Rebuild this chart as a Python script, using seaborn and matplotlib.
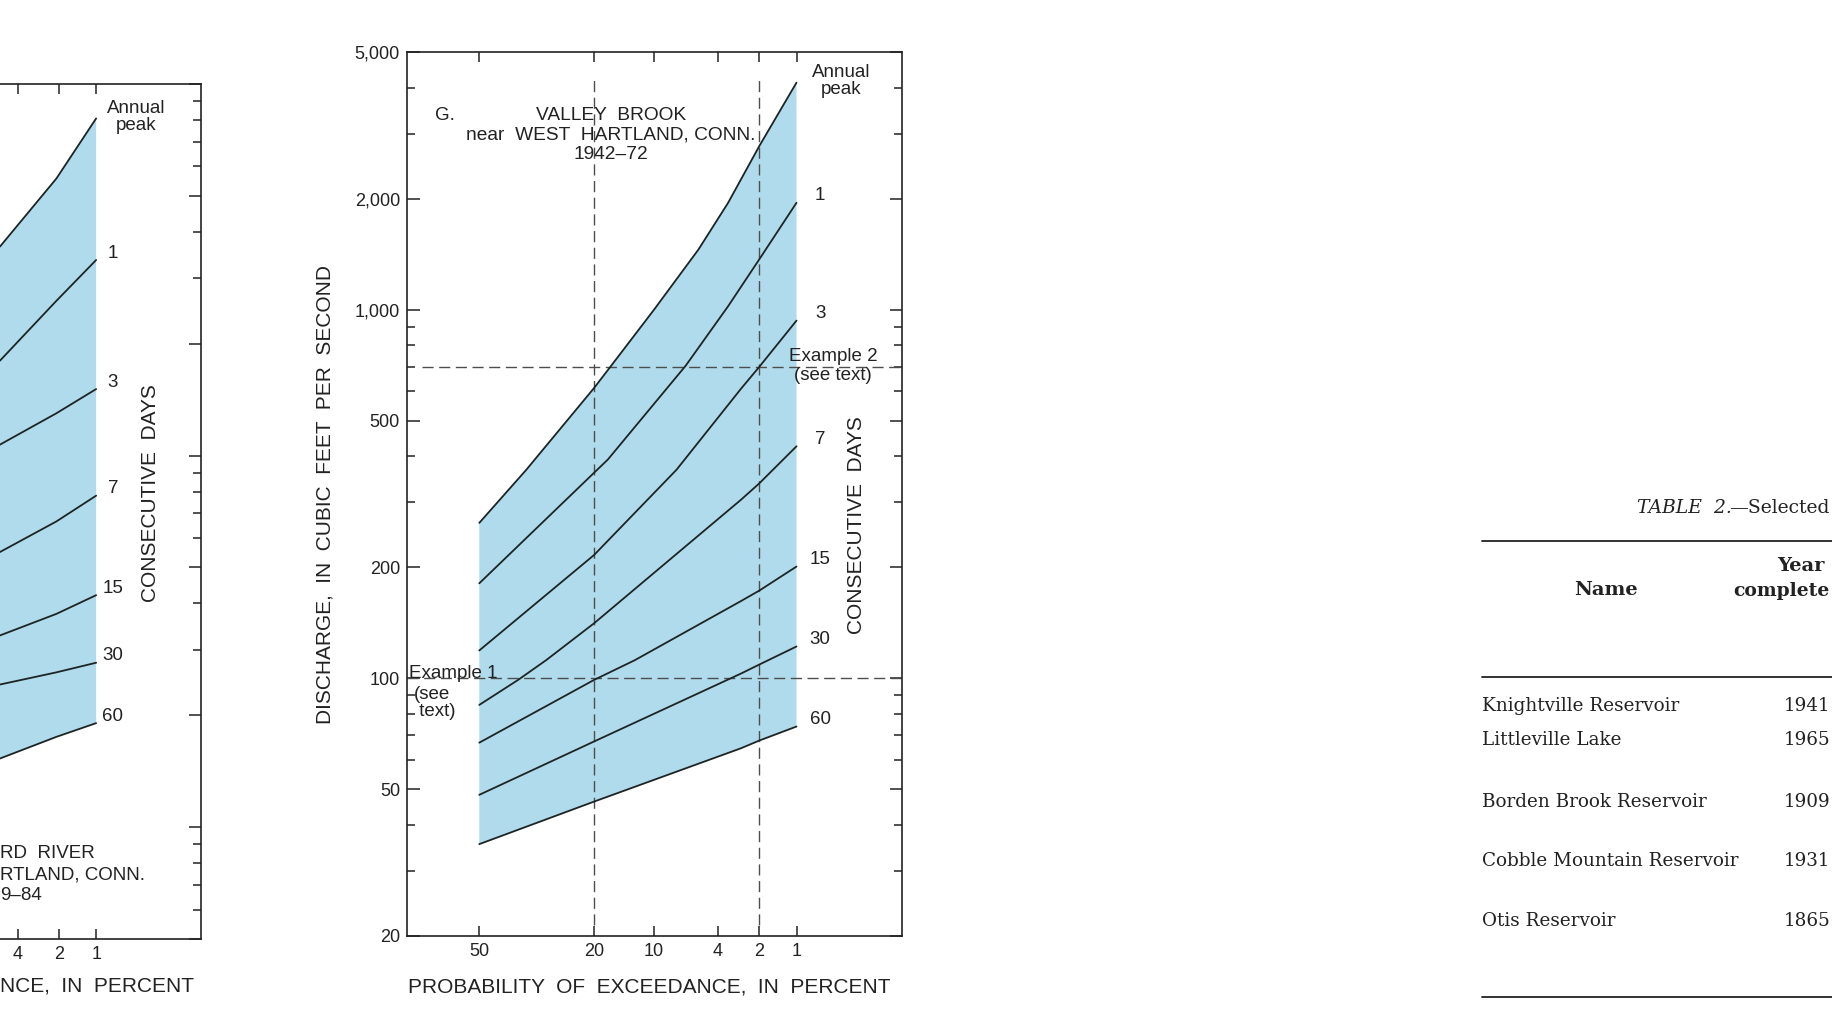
"""Discharge-probability curves, Valley Brook near West Hartland (scan recreation)."""

from statistics import NormalDist

import matplotlib

matplotlib.use("Agg")
import matplotlib.pyplot as plt
from matplotlib.lines import Line2D
from matplotlib.ticker import FixedLocator, FuncFormatter, NullFormatter
import numpy as np
import pandas as pd
import seaborn as sns

W, H = 1832, 1014

# ---- panel G: Valley Brook near West Hartland, 1942-72 (percent exceedance, cfs)
g_peak_p = [50, 36.5, 20, 16.5, 10, 5.4, 3.4, 2, 1]
g_peak_q = [264, 368, 613, 710, 1000, 1456, 1950, 2780, 4130]
g_d1_p = [50, 20, 17.3, 6.5, 3.4, 2, 1]
g_d1_q = [181, 361, 392, 705, 1022, 1370, 1950]
g_d3_p = [50, 20, 7.4, 2.75, 2, 1]
g_d3_q = [119, 216, 368, 610, 700, 934]
g_d7_p = [50, 38.8, 31.2, 20, 2.75, 2, 1]
g_d7_q = [84.7, 99, 112, 141, 305, 338, 426]
g_d15_p = [50, 20, 12.7, 2.75, 2, 1]
g_d15_q = [66.9, 99, 112, 162, 173, 201]
g_d30_p = [50, 20, 2.75, 2, 1]
g_d30_q = [48.3, 67.4, 103, 109, 122]
g_d60_p = [50, 20, 2.75, 2, 1]
g_d60_q = [35.5, 46.3, 64.6, 67.8, 74]

# ---- panel F (only its right edge is on the page)
f_p = [5.3, 2.1, 1]
f_peak_q = [365, 557, 808]
f_d1_q = [180, 261, 336]
f_d3_q = [107, 130, 151]
f_d7_q = [55, 66.5, 78]
f_d15_q = [32.8, 37.5, 42.1]
f_d30_q = [24.2, 26.1, 27.7]
f_d60_q = [15.3, 17.5, 19.05]

curve_names = ["Annual\npeak", "1", "3", "7", "15", "30", "60"]

prob_ticks = [50, 20, 10, 4, 2, 1]
g_major = [20, 50, 100, 200, 500, 1000, 2000, 5000]
g_minor = [30, 40, 60, 70, 80, 90, 300, 400, 600, 700, 800, 900, 3000, 4000]
f_major = [5, 10, 20, 50, 100, 200, 500, 1000]
f_minor = [6, 7, 8, 9, 30, 40, 60, 70, 80, 90, 300, 400, 600, 700, 800, 900]

example1_p, example1_q = 20, 100
example2_p, example2_q = 2, 700

table_names = ["Knightville Reservoir", "Littleville Lake", "Borden Brook Reservoir",
               "Cobble Mountain Reservoir", "Otis Reservoir"]
table_years = ["1941", "1965", "1909", "1931", "1865"]

SHADE = "#b0dbec"
INK = "#1c2424"
DASH = "#4d4d4d"
TXT = "#222222"

sns.set_style("white")
plt.rcParams["font.family"] = ["Liberation Sans", "DejaVu Sans"]

nd = NormalDist()


def _fwd(p):
    p = np.clip(np.asarray(p, dtype=float), 1e-6, 100 - 1e-6)
    return np.vectorize(lambda v: nd.inv_cdf(1 - v / 100), otypes=[float])(p)


def _inv(z):
    z = np.asarray(z, dtype=float)
    return np.vectorize(lambda v: 100 * (1 - nd.cdf(v)), otypes=[float])(z)


def px(x, y):
    return x / W, 1 - y / H


def curves_frame(curves):
    rows = []
    for name, (p, q) in zip(curve_names, curves):
        rows += [{"curve": name, "p": a, "q": b} for a, b in zip(p, q)]
    return pd.DataFrame(rows)


def setup_axes(ax, major, minor, xticks):
    ax.set_xscale("function", functions=(_fwd, _inv))
    ax.set_yscale("log")
    ax.xaxis.set_major_locator(FixedLocator(xticks))
    ax.xaxis.set_major_formatter(FuncFormatter(lambda v, _: f"{v:g}"))
    ax.xaxis.set_minor_locator(FixedLocator([]))
    ax.yaxis.set_major_locator(FixedLocator(major))
    ax.yaxis.set_minor_locator(FixedLocator(minor))
    ax.yaxis.set_major_formatter(FuncFormatter(lambda v, _: f"{v:,.0f}"))
    ax.yaxis.set_minor_formatter(NullFormatter())
    ax.tick_params(which="both", direction="in", top=True, right=True, left=True,
                   bottom=True, color=TXT, width=1.1, labelsize=13, pad=5,
                   labelcolor=TXT)
    ax.tick_params(axis="y", which="major", length=9)
    ax.tick_params(axis="x", which="major", length=7)
    ax.tick_params(which="minor", length=5.5)
    for s in ax.spines.values():
        s.set_visible(True)
        s.set_color(TXT)
        s.set_linewidth(1.2)


def set_limits(ax, ylim):
    # the scale is decreasing in p, so the limits are given low-p first;
    # this puts 50 percent on the left and 1 percent on the right
    ax.set_xlim(float(_inv(3.10)), float(_inv(-0.53)))
    ax.set_ylim(*ylim)


def draw_panel(ax, curves, label_dx, peak_dx):
    df = curves_frame(curves)
    sns.lineplot(data=df, x="p", y="q", units="curve", estimator=None, sort=False,
                 color=INK, linewidth=1.3, ax=ax, zorder=3)
    top_p, top_q = curves[0]
    bot_p, bot_q = curves[-1]
    ax.fill(np.r_[top_p, bot_p[::-1]], np.r_[top_q, bot_q[::-1]],
            color=SHADE, lw=0, zorder=0)
    for name, (p, q) in zip(curve_names, curves):
        peak = name.startswith("Annual")
        dx = peak_dx if peak else label_dx
        ax.annotate(name, xy=(p[-1], q[-1]), xytext=(dx, 1 if peak else 5),
                    textcoords="offset points", ha="center", va="center",
                    fontsize=13.5, color=TXT, linespacing=1.0, annotation_clip=False)
    ax.set_xlabel("")
    ax.set_ylabel("")


fig = plt.figure(figsize=(W / 100, H / 100), dpi=100)
fig.patch.set_facecolor("white")

# ---- main panel G
ax = fig.add_axes([407 / W, 1 - 936 / H, 495 / W, 884 / H])
ax.set_facecolor("white")
setup_axes(ax, g_major, g_minor, prob_ticks)
g_curves = [(g_peak_p, g_peak_q), (g_d1_p, g_d1_q), (g_d3_p, g_d3_q), (g_d7_p, g_d7_q),
            (g_d15_p, g_d15_q), (g_d30_p, g_d30_q), (g_d60_p, g_d60_q)]
draw_panel(ax, g_curves, label_dx=17, peak_dx=32)

dash_kw = dict(color=DASH, lw=1.0, dashes=(8, 4), zorder=2)
ax.axvline(example1_p, ymin=0.012, ymax=0.972, **dash_kw)
ax.axvline(example2_p, ymin=0.012, ymax=0.972, **dash_kw)
ax.axhline(example1_q, xmin=0.0, xmax=1.0, **dash_kw)
ax.axhline(example2_q, xmin=0.03, xmax=1.0, **dash_kw)
set_limits(ax, (20, 5000))

ax.set_ylabel("DISCHARGE,  IN  CUBIC  FEET  PER  SECOND", fontsize=15, color=TXT)
ax.yaxis.set_label_coords(-0.165, 0.5)
ax.yaxis.label.set_va("center")
ax.set_xlabel("PROBABILITY  OF  EXCEEDANCE,  IN  PERCENT", fontsize=15, color=TXT)
ax.xaxis.set_label_coords(0.49, -0.0577)
ax.xaxis.label.set_va("center")

fig.text(*px(857, 525), "CONSECUTIVE  DAYS", rotation=90, ha="center", va="center",
         fontsize=15, color=TXT)
fig.text(*px(445, 115), "G.", ha="center", va="center", fontsize=13.5, color=TXT)
fig.text(*px(611, 135), "VALLEY  BROOK\nnear  WEST  HARTLAND, CONN.\n1942–72",
         ha="center", va="center", fontsize=13.8, linespacing=1.2, color=TXT)
fig.text(*px(833, 366), "Example 2\n(see text)", ha="center", va="center",
         fontsize=13.5, linespacing=1.2, color=TXT)
fig.text(*px(409, 673), "Example 1", ha="left", va="center", fontsize=13.5, color=TXT)
fig.text(*px(414, 703), "(see\n text)", ha="left", va="center", fontsize=13.5,
         linespacing=1.0, color=TXT)

# ---- partial panel F at the left page edge
axf = fig.add_axes([-291 / W, 1 - 939 / H, 492 / W, 855 / H])
axf.set_facecolor("white")
setup_axes(axf, f_major, f_minor, [4, 2, 1])
axf.tick_params(labelleft=False)
f_curves = [(f_p, f_peak_q), (f_p, f_d1_q), (f_p, f_d3_q), (f_p, f_d7_q),
            (f_p, f_d15_q), (f_p, f_d30_q), (f_p, f_d60_q)]
draw_panel(axf, f_curves, label_dx=12, peak_dx=29)
set_limits(axf, (5, 1000))
fig.text(*px(151, 493), "CONSECUTIVE  DAYS", rotation=90, ha="center", va="center",
         fontsize=15, color=TXT)
fig.text(*px(0, 854), "RD  RIVER", ha="left", va="center", fontsize=13.5, color=TXT)
fig.text(*px(0, 875), "RTLAND, CONN.", ha="left", va="center", fontsize=13.5, color=TXT)
fig.text(*px(0, 896), "9–84", ha="left", va="center", fontsize=13.5, color=TXT)
fig.text(*px(0, 986), "NCE,  IN  PERCENT", ha="left", va="center", fontsize=15,
         color=TXT)

# ---- table fragment on the right
serif = ["DejaVu Serif"]
fig.text(*px(1637, 508), "TABLE  2.", ha="left", va="center", fontsize=13.5,
         style="italic", family=serif, color=TXT)
fig.text(*px(1830, 508), "—Selected", ha="right", va="center", fontsize=13.5,
         family=serif, color=TXT)
fig.text(*px(1606, 590), "Name", ha="center", va="center", fontsize=14,
         weight="bold", family=serif, color=TXT)
fig.text(*px(1801, 566), "Year", ha="center", va="center", fontsize=14,
         weight="bold", family=serif, color=TXT)
fig.text(*px(1830, 591), "complete", ha="right", va="center", fontsize=13.5,
         weight="bold", family=serif, color=TXT)
row_y = [706, 740, 802, 861, 921]
for name, year, y in zip(table_names, table_years, row_y):
    fig.text(*px(1482, y), name, ha="left", va="center", fontsize=13.2, family=serif,
             color=TXT)
    fig.text(*px(1807, y), year, ha="center", va="center", fontsize=13.2, family=serif,
             color=TXT)
for y in [541, 677, 997]:
    fig.add_artist(Line2D([1482 / W, 1.0], [1 - y / H] * 2, color=TXT, lw=1.3))

fig.savefig("out.png", dpi=100, facecolor="white")
plt.close(fig)
